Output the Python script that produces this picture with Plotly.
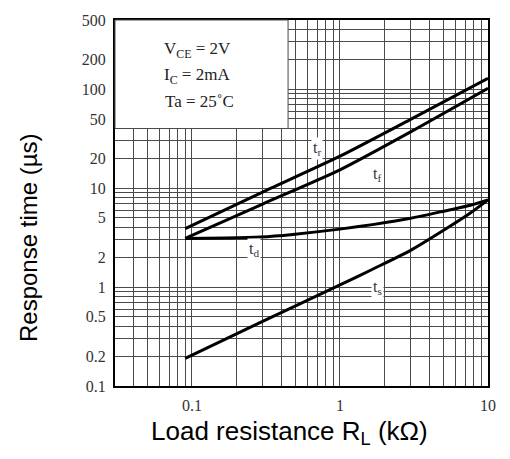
import math
import plotly.graph_objects as go

# ---- data ----
tr_x = [0.09, 0.3, 1, 3, 10]
tr_y = [3.9, 9.1, 21, 49.5, 129]

tf_x = [0.09, 0.3, 1, 3, 10]
tf_y = [3.1, 6.9, 15.3, 37, 102]

td_x = [0.09, 0.17, 0.29, 0.48, 1, 1.7, 3, 5.3, 7.6, 10]
td_y = [3.1, 3.13, 3.2, 3.4, 3.85, 4.3, 4.95, 5.95, 6.7, 7.6]

ts_x = [0.09, 0.3, 1, 1.7, 3, 5.3, 7.6, 10]
ts_y = [0.19, 0.45, 1.05, 1.54, 2.35, 3.95, 5.6, 7.6]

x_tick_vals = [0.1, 1, 10]
x_tick_labels = ["0.1", "1", "10"]
y_tick_vals = [0.1, 0.2, 0.5, 1, 2, 5, 10, 20, 50, 100, 200, 500]
y_tick_labels = ["0.1", "0.2", "0.5", "1", "2", "5", "10", "20", "50", "100", "200", "500"]

SERIF = "Liberation Serif"
SANS = "Liberation Sans"

# log gridlines (1..9 in every decade)
x_grid = [m * 10 ** e for e in (-2, -1, 0) for m in range(1, 10) if 0.03 <= m * 10 ** e <= 10] + [10]
y_grid = [m * 10 ** e for e in (-1, 0, 1, 2) for m in range(1, 10) if m * 10 ** e <= 500]

fig = go.Figure()
for xs, ys in [(tr_x, tr_y), (tf_x, tf_y), (td_x, td_y), (ts_x, ts_y)]:
    fig.add_trace(go.Scatter(x=xs, y=ys, mode="lines",
                             line=dict(color="black", width=3, shape="spline", smoothing=0.6),
                             showlegend=False, hoverinfo="skip"))

grid_col = "#4a4a4a"
fig.update_xaxes(type="log", range=[-1.52, 1], tickmode="array",
                 tickvals=x_tick_vals, ticktext=x_tick_labels,
                 showgrid=True, gridcolor=grid_col, gridwidth=1,
                 minor=dict(tickmode="array", tickvals=x_grid, showgrid=True,
                            gridcolor=grid_col, gridwidth=1, ticks=""),
                 showline=True, linecolor="black", linewidth=2, mirror=True,
                 ticks="", zeroline=False, ticklabelstandoff=4,
                 tickfont=dict(family=SERIF, size=16, color="#333"))
fig.update_yaxes(type="log", range=[-1, math.log10(500)], tickmode="array",
                 tickvals=y_tick_vals, ticktext=y_tick_labels,
                 showgrid=True, gridcolor=grid_col, gridwidth=1,
                 minor=dict(tickmode="array", tickvals=y_grid, showgrid=True,
                            gridcolor=grid_col, gridwidth=1, ticks=""),
                 showline=True, linecolor="black", linewidth=2, mirror=True,
                 ticks="", zeroline=False, ticklabelstandoff=4,
                 tickfont=dict(family=SERIF, size=16, color="#333"))

# white condition box in top-left
fig.add_shape(type="rect", xref="x domain", yref="y domain",
              x0=0, x1=0.464, y0=0.7035, y1=1,
              fillcolor="white", line=dict(color=grid_col, width=1), layer="above")

W, H = 510, 459
L, R, T, B = 115, 22, 15, 73
pw, ph = W - L - R, H - T - B

def px(xp):
    return (xp - L) / pw

def py(yp):
    return (H - B - yp) / ph

box_lines = [("V<sub>CE</sub> = 2V", 197, 45), ("I<sub>C</sub> = 2mA", 197, 72), ("Ta = 25˚C", 199, 98)]
for txt, xx, yy in box_lines:
    fig.add_annotation(text=txt, xref="paper", yref="paper", x=px(xx), y=py(yy),
                       xanchor="center", yanchor="middle",
                       showarrow=False, font=dict(family=SERIF, size=17, color="#222"))

curve_labels = [("t<sub>r</sub>", 317, 145, "white"), ("t<sub>f</sub>", 377, 172, "rgba(0,0,0,0)"),
                ("t<sub>d</sub>", 254, 248, "white"), ("t<sub>s</sub>", 377, 286, "white")]
for txt, xx, yy, bg in curve_labels:
    fig.add_annotation(text=txt, xref="paper", yref="paper", x=px(xx), y=py(yy),
                       xanchor="center", yanchor="middle",
                       showarrow=False, bgcolor=bg, borderpad=1,
                       font=dict(family=SERIF, size=16, color="#334"))

fig.add_annotation(text="Load resistance R<sub>L</sub> (kΩ)", xref="paper", yref="paper",
                   x=px(289), y=py(433), xanchor="center", yanchor="middle", showarrow=False,
                   font=dict(family=SANS, size=26, color="black"))
fig.add_annotation(text="Response time (µs)", xref="paper", yref="paper",
                   x=px(28), y=py(236), xanchor="center", yanchor="middle",
                   showarrow=False, textangle=-90,
                   font=dict(family=SANS, size=24, color="black"))

fig.update_layout(width=W, height=H, margin=dict(l=L, r=R, t=T, b=B),
                  paper_bgcolor="white", plot_bgcolor="white")

fig.write_html("out.html")
